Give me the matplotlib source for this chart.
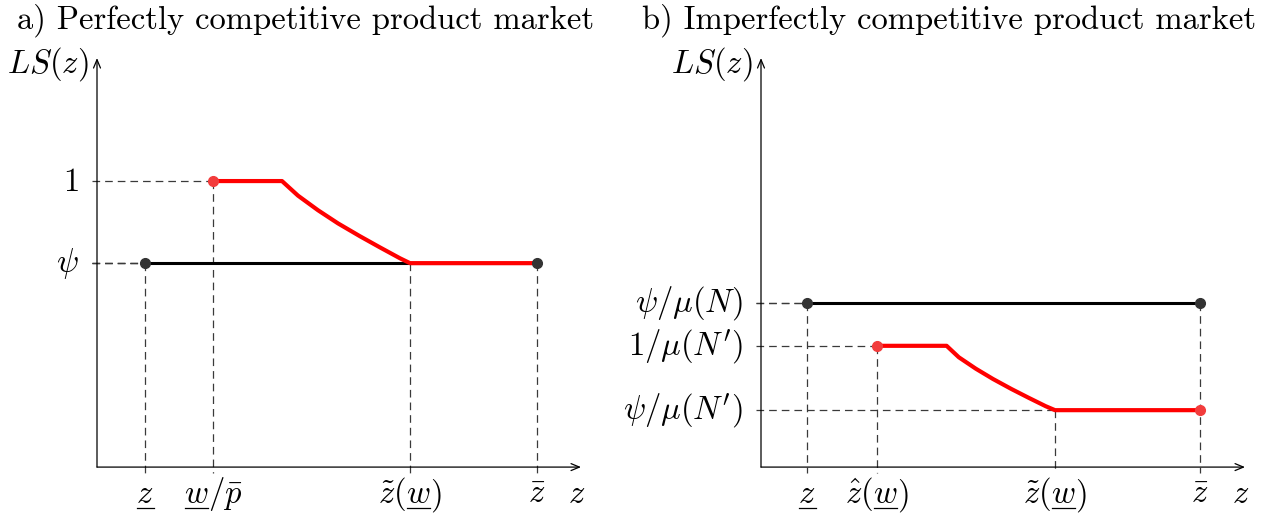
import matplotlib
matplotlib.use("Agg")
import matplotlib.pyplot as plt
from matplotlib.font_manager import FontProperties
from matplotlib.lines import Line2D
from matplotlib.transforms import offset_copy

plt.rcParams["mathtext.fontset"] = "cm"
plt.rcParams["lines.scale_dashes"] = False

# labels are lists of (mathtext piece, underlined?) since mathtext has no \underline
ZLOW = [("z", True)]
ZBAR = [(r"\bar{z}", False)]
ZTIL = [(r"\tilde{z}(", False), ("w", True), (")", False)]

# ---- panel a: perfectly competitive product market
a_ticks_x = [1.2, 2.9, 7.825, 11.0]          # z_lower, w/p, z~(w), z_bar
a_tick_labels = [ZLOW, [("w", True), (r"/\bar{p}", False)], ZTIL, ZBAR]
a_levels = [1.0, 0.713]                      # 1, psi
a_level_labels = [r"$1$", r"$\psi$"]
a_black_x = [1.2, 11.0]
a_black_y = [0.713, 0.713]
a_red_x = [2.9, 4.625, 5.025, 5.525, 6.025, 6.575, 7.075, 7.575, 7.825, 11.0]
a_red_y = [1.0, 1.0, 0.949, 0.898, 0.852, 0.807, 0.768, 0.730, 0.713, 0.713]

# ---- panel b: imperfectly competitive product market
b_ticks_x = [1.15, 2.9, 7.35, 10.975]        # z_lower, z^(w), z~(w), z_bar
b_tick_labels = [ZLOW, [(r"\hat{z}(", False), ("w", True), (")", False)], ZTIL, ZBAR]
b_levels = [0.573, 0.424, 0.199]             # psi/mu(N), 1/mu(N'), psi/mu(N')
b_level_labels = [r"$\psi/\mu(N)$", r"$1/\mu(N')$", r"$\psi/\mu(N')$"]
b_black_x = [1.15, 10.975]
b_black_y = [0.573, 0.573]
b_red_x = [2.9, 4.64, 4.945, 5.37, 5.8, 6.26, 6.695, 7.115, 7.35, 10.975]
b_red_y = [0.424, 0.424, 0.384, 0.344, 0.308, 0.273, 0.242, 0.213, 0.199, 0.199]

FS = 23.5
DPI = 100
DASH = dict(color="#3a3a3a", lw=0.9, dashes=(5.5, 3.6))
BLACK = "#000000"
DOT_BLACK = "#333333"
RED = "#ff0000"
DOT_RED = "#f23c3c"


def math_label(ax, x, y, parts):
    """centred mathtext label built from pieces, some of them underlined."""
    fig = ax.figure
    rend = fig.canvas.get_renderer()
    prop = FontProperties(size=FS)
    widths = [rend.get_text_width_height_descent(f"${p}$", prop, ismath=True)[0]
              for p, _ in parts]
    x0, y0 = ax.transData.transform((x, y))
    off = -sum(widths) / 2
    for (p, ul), w in zip(parts, widths):
        tr = offset_copy(ax.transData, fig=fig, x=off * 72 / DPI, y=0, units="points")
        ax.text(x, y, f"${p}$", transform=tr, fontsize=FS, ha="left", va="baseline")
        if ul:
            fig.add_artist(Line2D([x0 + off + 1, x0 + off + w], [y0 - 5, y0 - 5],
                                  transform=None, color="black", lw=0.9))
        off += w


def draw_axes(ax, xmax, ymax):
    arrow = dict(arrowstyle="->,head_length=0.6,head_width=0.25",
                 color="black", lw=0.9, shrinkA=0, shrinkB=0)
    ax.annotate("", xy=(xmax, 0), xytext=(0, 0), arrowprops=arrow)
    ax.annotate("", xy=(0, ymax), xytext=(0, 0), arrowprops=arrow)
    ax.text(-0.2, ymax - 0.02, r"$LS(z)$", fontsize=FS, ha="right", va="center")
    ax.text(xmax - 0.1, -0.126, r"$z$", fontsize=FS, ha="center", va="baseline")


def guides(ax, px, py):
    # dashed drop lines to both axes
    ax.plot([-0.13, px], [py, py], **DASH)
    ax.plot([px, px], [py, -0.022], **DASH)


def panel(ax, title, ticks_x, tick_labels, levels, level_labels,
          black_x, black_y, red_x, red_y, guide_pts, red_dots, black_dots,
          xlim, title_x):
    ax.set_xlim(*xlim)
    ax.set_ylim(-0.178, 1.633)
    ax.axis("off")
    draw_axes(ax, 12.1, 1.43)
    for gx, gy in guide_pts:
        guides(ax, gx, gy)
    ax.plot(black_x, black_y, color=BLACK, lw=2.2, solid_capstyle="butt", zorder=3)
    ax.plot(red_x, red_y, color=RED, lw=3.0, solid_capstyle="butt",
            solid_joinstyle="round", zorder=4)
    for dx, dy in black_dots:
        ax.plot(dx, dy, "o", color=DOT_BLACK, ms=7, zorder=5)
    for dx, dy in red_dots:
        ax.plot(dx, dy, "o", color=DOT_RED, ms=7, zorder=5)
    for x, parts in zip(ticks_x, tick_labels):
        math_label(ax, x, -0.126, parts)
    for y, lab in zip(levels, level_labels):
        ax.text(-0.45, y, lab, fontsize=FS, ha="right", va="center")
    ax.text(title_x, 1.535, title, fontsize=FS, family="cmr10",
            ha="left", va="baseline")


fig = plt.figure(figsize=(12.67, 5.18), dpi=DPI)
axa = fig.add_axes([0, 0, 633 / 1267, 1])
axb = fig.add_axes([633 / 1267, 0, 634 / 1267, 1])

panel(axa, "a) Perfectly competitive product market",
      a_ticks_x, a_tick_labels, a_levels, a_level_labels,
      a_black_x, a_black_y, a_red_x, a_red_y,
      guide_pts=[(a_ticks_x[0], a_levels[1]), (a_ticks_x[1], a_levels[0]),
                 (a_ticks_x[2], a_levels[1]), (a_ticks_x[3], a_levels[1])],
      red_dots=[(a_red_x[0], a_red_y[0])],
      black_dots=[(a_black_x[0], a_black_y[0]), (a_black_x[1], a_black_y[1])],
      xlim=(-2.425, 13.4), title_x=-2.0)

panel(axb, "b) Imperfectly competitive product market",
      b_ticks_x, b_tick_labels, b_levels, b_level_labels,
      b_black_x, b_black_y, b_red_x, b_red_y,
      guide_pts=[(b_ticks_x[0], b_levels[0]), (b_ticks_x[1], b_levels[1]),
                 (b_ticks_x[2], b_levels[2]), (b_ticks_x[3], b_levels[0])],
      red_dots=[(b_red_x[0], b_red_y[0]), (b_red_x[-1], b_red_y[-1])],
      black_dots=[(b_black_x[0], b_black_y[0]), (b_black_x[1], b_black_y[1])],
      xlim=(-3.2, 12.65), title_x=-2.975)

fig.savefig("out.png", dpi=DPI)
